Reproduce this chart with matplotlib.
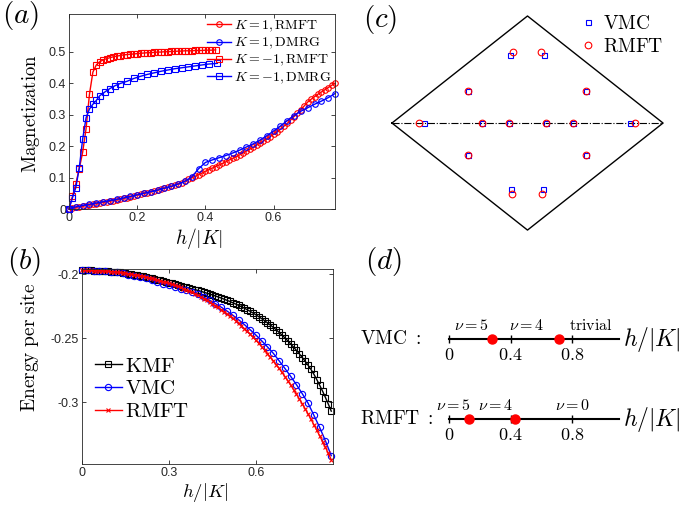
import numpy as np
import matplotlib.pyplot as plt
from matplotlib.ticker import FuncFormatter

plt.rcParams['mathtext.fontset'] = 'cm'
plt.rcParams['font.family'] = ['Liberation Sans', 'DejaVu Sans']

# ---- panel (a): magnetization vs h/|K| ----
# K = 1, RMFT (step 0.01 from 0)
m_k1_rmft = [0.000, 0.003, 0.005, 0.007, 0.009, 0.011, 0.013, 0.015, 0.017, 0.019,
             0.021, 0.023, 0.025, 0.027, 0.029, 0.031, 0.034, 0.036, 0.039, 0.042,
             0.045, 0.047, 0.050, 0.052, 0.055, 0.058, 0.061, 0.064, 0.067, 0.069,
             0.072, 0.076, 0.080, 0.084, 0.089, 0.094, 0.099, 0.104, 0.109, 0.114,
             0.120, 0.125, 0.130, 0.135, 0.140, 0.145, 0.150, 0.156, 0.161, 0.166,
             0.172, 0.178, 0.184, 0.190, 0.196, 0.203, 0.210, 0.216, 0.223, 0.230,
             0.238, 0.246, 0.254, 0.263, 0.272, 0.283, 0.294, 0.305, 0.316, 0.328,
             0.340, 0.349, 0.357, 0.365, 0.372, 0.379, 0.386, 0.393, 0.400]
# K = 1, DMRG (step 0.02 from 0)
m_k1_dmrg = [0.000, 0.007, 0.011, 0.015, 0.019, 0.023, 0.027, 0.031, 0.035, 0.040,
             0.045, 0.050, 0.055, 0.060, 0.066, 0.072, 0.079, 0.088, 0.102, 0.128,
             0.148, 0.156, 0.163, 0.170, 0.178, 0.187, 0.197, 0.207, 0.219, 0.233,
             0.248, 0.264, 0.281, 0.297, 0.311, 0.322, 0.333, 0.343, 0.354, 0.367]
# K = -1, RMFT (step 0.01 from 0)
m_km1_rmft = [0.000, 0.040, 0.080, 0.128, 0.180, 0.255, 0.365, 0.435, 0.458, 0.468,
              0.474, 0.478, 0.481, 0.484, 0.486, 0.488, 0.490, 0.491, 0.492, 0.493,
              0.494, 0.495, 0.496, 0.497, 0.497, 0.498, 0.499, 0.499, 0.500, 0.500,
              0.501, 0.501, 0.502, 0.502, 0.503, 0.503, 0.503, 0.504, 0.504, 0.504,
              0.505, 0.505, 0.505, 0.506]
# K = -1, DMRG
h_km1_dmrg = [0, 0.01, 0.02, 0.03, 0.04, 0.05, 0.06, 0.07, 0.08, 0.09, 0.105, 0.12,
              0.135, 0.15, 0.17, 0.19, 0.21, 0.23, 0.25, 0.27, 0.29, 0.31, 0.33,
              0.35, 0.37, 0.39, 0.41, 0.435]
m_km1_dmrg = [0.000, 0.035, 0.068, 0.130, 0.222, 0.290, 0.318, 0.333, 0.345, 0.360,
              0.372, 0.383, 0.392, 0.399, 0.406, 0.415, 0.422, 0.428, 0.433, 0.438,
              0.442, 0.446, 0.449, 0.452, 0.455, 0.458, 0.461, 0.463]

# ---- panel (b): energy per site ----
# KMF (step 0.01)
e_kmf = [-0.1970, -0.1970, -0.1971, -0.1971, -0.1972, -0.1973, -0.1974, -0.1975, -0.1976, -0.1978,
         -0.1980, -0.1982, -0.1984, -0.1987, -0.1990, -0.1993, -0.1996, -0.2000, -0.2004, -0.2008,
         -0.2012, -0.2017, -0.2022, -0.2027, -0.2032, -0.2037, -0.2043, -0.2049, -0.2055, -0.2061,
         -0.2067, -0.2073, -0.2079, -0.2085, -0.2091, -0.2097, -0.2103, -0.2109, -0.2115, -0.2121,
         -0.2127, -0.2134, -0.2141, -0.2148, -0.2155, -0.2162, -0.2170, -0.2178, -0.2186, -0.2195,
         -0.2204, -0.2213, -0.2223, -0.2233, -0.2243, -0.2254, -0.2265, -0.2277, -0.2290, -0.2303,
         -0.2317, -0.2332, -0.2347, -0.2363, -0.2380, -0.2397, -0.2415, -0.2434, -0.2454, -0.2475,
         -0.2497, -0.2520, -0.2544, -0.2569, -0.2595, -0.2622, -0.2650, -0.2679, -0.2710, -0.2743,
         -0.2780, -0.2822, -0.2866, -0.2912, -0.2962, -0.3014, -0.3068]
# VMC (step 0.02)
e_vmc = [-0.1970, -0.1971, -0.1972, -0.1974, -0.1977, -0.1981, -0.1987, -0.1995, -0.2003, -0.2011,
         -0.2019, -0.2030, -0.2044, -0.2060, -0.2074, -0.2085, -0.2098, -0.2112, -0.2126, -0.2140,
         -0.2158, -0.2180, -0.2204, -0.2230, -0.2257, -0.2287, -0.2320, -0.2355, -0.2393, -0.2433,
         -0.2475, -0.2520, -0.2567, -0.2617, -0.2675, -0.2735, -0.2797, -0.2862, -0.2932, -0.3006,
         -0.3100, -0.3195, -0.3300, -0.3415]
# RMFT (step 0.01)
e_rmft = [-0.1970, -0.1970, -0.1971, -0.1971, -0.1972, -0.1973, -0.1974, -0.1975, -0.1977, -0.1978,
          -0.1980, -0.1982, -0.1984, -0.1987, -0.1990, -0.1993, -0.1996, -0.2000, -0.2004, -0.2008,
          -0.2012, -0.2017, -0.2022, -0.2027, -0.2033, -0.2039, -0.2045, -0.2051, -0.2058, -0.2065,
          -0.2072, -0.2080, -0.2088, -0.2096, -0.2104, -0.2113, -0.2122, -0.2131, -0.2141, -0.2151,
          -0.2165, -0.2177, -0.2190, -0.2203, -0.2217, -0.2231, -0.2245, -0.2260, -0.2276, -0.2292,
          -0.2309, -0.2326, -0.2344, -0.2362, -0.2381, -0.2403, -0.2424, -0.2446, -0.2468, -0.2491,
          -0.2515, -0.2540, -0.2566, -0.2593, -0.2620, -0.2648, -0.2676, -0.2705, -0.2735, -0.2766,
          -0.2798, -0.2831, -0.2865, -0.2900, -0.2936, -0.2973, -0.3011, -0.3050, -0.3090, -0.3131,
          -0.3173, -0.3216, -0.3260, -0.3305, -0.3351, -0.3398, -0.3446]

# ---- panel (c): Brillouin zone and nodal points ----
bz_x = [-1, 0, 1, 0, -1]
bz_y = [0, 0.79, 0, -0.79, 0]
vmc_kx = [-0.128, 0.123, -0.441, 0.433, -0.761, -0.333, -0.135, 0.135, 0.333, 0.754,
          -0.441, 0.433, -0.121, 0.113]
vmc_ky = [0.500, 0.500, 0.239, 0.239, 0, 0, 0, 0, 0, 0, -0.234, -0.234, -0.490, -0.490]
rmft_kx = [-0.108, 0.103, -0.441, 0.433, -0.798, -0.333, -0.135, 0.135, 0.333, 0.793,
           -0.441, 0.433, -0.113, 0.108]
rmft_ky = [0.525, 0.525, 0.239, 0.239, 0, 0, 0, 0, 0, 0, -0.234, -0.234, -0.522, -0.522]

# ---- panel (d): phase diagrams ----
line_end = 1.1
axis_ticks = [0, 0.4, 0.8]
vmc_transitions = [0.28, 0.71]
vmc_phases = [(0.147, r'$\nu=5$'), (0.504, r'$\nu=4$'), (0.92, r'$\mathrm{trivial}$')]
rmft_transitions = [0.13, 0.43]
rmft_phases = [(0.03, r'$\nu=5$'), (0.30, r'$\nu=4$'), (0.80, r'$\nu=0$')]

RED = '#ff0000'
BLUE = '#0000ff'
AXC = '#262626'
fmt = FuncFormatter(lambda v, p: '%g' % round(v, 4))


def matlab_style(ax):
    ax.tick_params(direction='in', top=True, right=True, length=3, width=0.6,
                   labelsize=9, colors=AXC, pad=2)
    for s in ax.spines.values():
        s.set_linewidth(0.6)
        s.set_color(AXC)
    ax.xaxis.set_major_formatter(fmt)
    ax.yaxis.set_major_formatter(fmt)


fig = plt.figure(figsize=(6.85, 5.07), dpi=100)

# (a)
ax = fig.add_axes([69 / 685, 298 / 507, 266 / 685, 195 / 507])
h1 = np.arange(len(m_k1_rmft)) * 0.01
h2 = np.arange(len(m_k1_dmrg)) * 0.02
h3 = np.arange(len(m_km1_rmft)) * 0.01
kw = dict(lw=1.0, ms=4, mew=0.8, mfc='none', clip_on=False)
ax.plot(h1, m_k1_rmft, '-o', color=RED, label=r'$K=1,\mathrm{RMFT}$', **kw)
ax.plot(h2, m_k1_dmrg, '-o', color=BLUE, label=r'$K=1,\mathrm{DMRG}$', **kw)
ax.plot(h3, m_km1_rmft, '-s', color=RED, label=r'$K=-1,\mathrm{RMFT}$', **kw)
ax.plot(h_km1_dmrg, m_km1_dmrg, '-s', color=BLUE, label=r'$K=-1,\mathrm{DMRG}$', **kw)
ax.set_xlim(0, 0.78)
ax.set_ylim(0, 0.62)
ax.set_xticks([0, 0.2, 0.4, 0.6])
ax.set_yticks([0, 0.1, 0.2, 0.3, 0.4, 0.5])
matlab_style(ax)
ax.set_xlabel(r'$h/|K|$', fontsize=14)
ax.set_ylabel(r'$\mathrm{Magnetization}$', fontsize=13.5)
ax.xaxis.set_label_coords(0.49, -0.085)
ax.yaxis.set_label_coords(-0.10, 0.49)
leg = ax.legend(loc='upper right', bbox_to_anchor=(1, 1), borderaxespad=0,
                fontsize=10, handlelength=1.7, handletextpad=0.2, labelspacing=0.12,
                borderpad=0.3, fancybox=False, framealpha=0, edgecolor='#888888')
leg.get_frame().set_linewidth(0.5)

# (b)
ax = fig.add_axes([82 / 685, 43 / 507, 251 / 685, 195 / 507])
hb1 = np.arange(len(e_kmf)) * 0.01
hb2 = np.arange(len(e_vmc)) * 0.02
hb3 = np.arange(len(e_rmft)) * 0.01
ax.plot(hb1, e_kmf, '-s', color='k', lw=1.0, ms=3.8, mew=0.8, mfc='none', clip_on=False, label=r'$\mathrm{KMF}$')
ax.plot(hb2, e_vmc, '-o', color=BLUE, lw=1.0, ms=4.5, mew=0.8, mfc='none', clip_on=False, label=r'$\mathrm{VMC}$')
ax.plot(hb3, e_rmft, '-x', color=RED, lw=1.0, ms=3, mew=0.8, clip_on=False, label=r'$\mathrm{RMFT}$')
ax.set_xlim(0, 0.866)
ax.set_ylim(-0.348, -0.196)
ax.set_xticks([0, 0.3, 0.6])
ax.set_yticks([-0.3, -0.25, -0.2])
matlab_style(ax)
ax.set_xlabel(r'$h/|K|$', fontsize=13.5)
ax.set_ylabel(r'$\mathrm{Energy\ per\ site}$', fontsize=14)
ax.xaxis.set_label_coords(0.49, -0.085)
ax.yaxis.set_label_coords(-0.165, 0.6)
ax.legend(loc='upper left', bbox_to_anchor=(0.05, 0.55), borderaxespad=0, frameon=False,
          fontsize=15, handlelength=1.3, handletextpad=0.15, labelspacing=0.18, borderpad=0)

# (c)
ax = fig.add_axes([370 / 685, 257 / 507, 315 / 685, 250 / 507])
ax.plot(bz_x, bz_y, 'k-', lw=1.0)
ax.plot([bz_x[0], bz_x[2]], [bz_y[0], bz_y[2]], 'k-.', lw=0.8)
ax.plot(vmc_kx, vmc_ky, 's', color=BLUE, ms=3.6, mew=0.8, mfc='none', ls='none', label=r'$\mathrm{VMC}$')
ax.plot(rmft_kx, rmft_ky, 'o', color=RED, ms=4.8, mew=0.8, mfc='none', ls='none', label=r'$\mathrm{RMFT}$')
ax.set_xlim(-1.162, 1.162)
ax.set_ylim(-0.937, 0.908)
ax.axis('off')
ax.legend(loc='upper left', bbox_to_anchor=(0.66, 0.94), borderaxespad=0, frameon=False,
          fontsize=14, handlelength=1.0, handletextpad=0.3, labelspacing=0.25, borderpad=0)

# (d)
ax = fig.add_axes([340 / 685, 0, 345 / 685, 267 / 507])
ax.set_xlim(-0.707, 1.530)
ax.set_ylim(0, 267)
ax.axis('off')
for yl, name, trans, phases in [(168, 'VMC', vmc_transitions, vmc_phases),
                                (88, 'RMFT', rmft_transitions, rmft_phases)]:
    ax.plot([0, line_end], [yl, yl], 'k-', lw=1.5)
    ax.plot(axis_ticks, [yl] * len(axis_ticks), 'k|', ms=6, mew=1.0)
    ax.plot(trans, [yl] * len(trans), 'o', color=RED, ms=6.5, mec=RED)
    for t in axis_ticks:
        ax.text(t, yl - 17, '$%g$' % t, ha='center', va='center', fontsize=13)
    for px, lab in phases:
        ax.text(px, yl + 13, lab, ha='center', va='center', fontsize=11.5)
    ax.text(-0.577, yl, r'$\mathrm{%s}\ :$' % name, ha='left', va='center', fontsize=14)
    ax.text(1.125, yl, r'$h/|K|$', ha='left', va='center', fontsize=17)

# panel labels
for x, y, s in [(21, 15, '(a)'), (24, 262, '(b)'), (380, 19, '(c)'), (383, 262, '(d)')]:
    fig.text(x / 685, 1 - y / 507, '$%s$' % s, ha='center', va='center', fontsize=21)

fig.savefig('out.png', dpi=100)
